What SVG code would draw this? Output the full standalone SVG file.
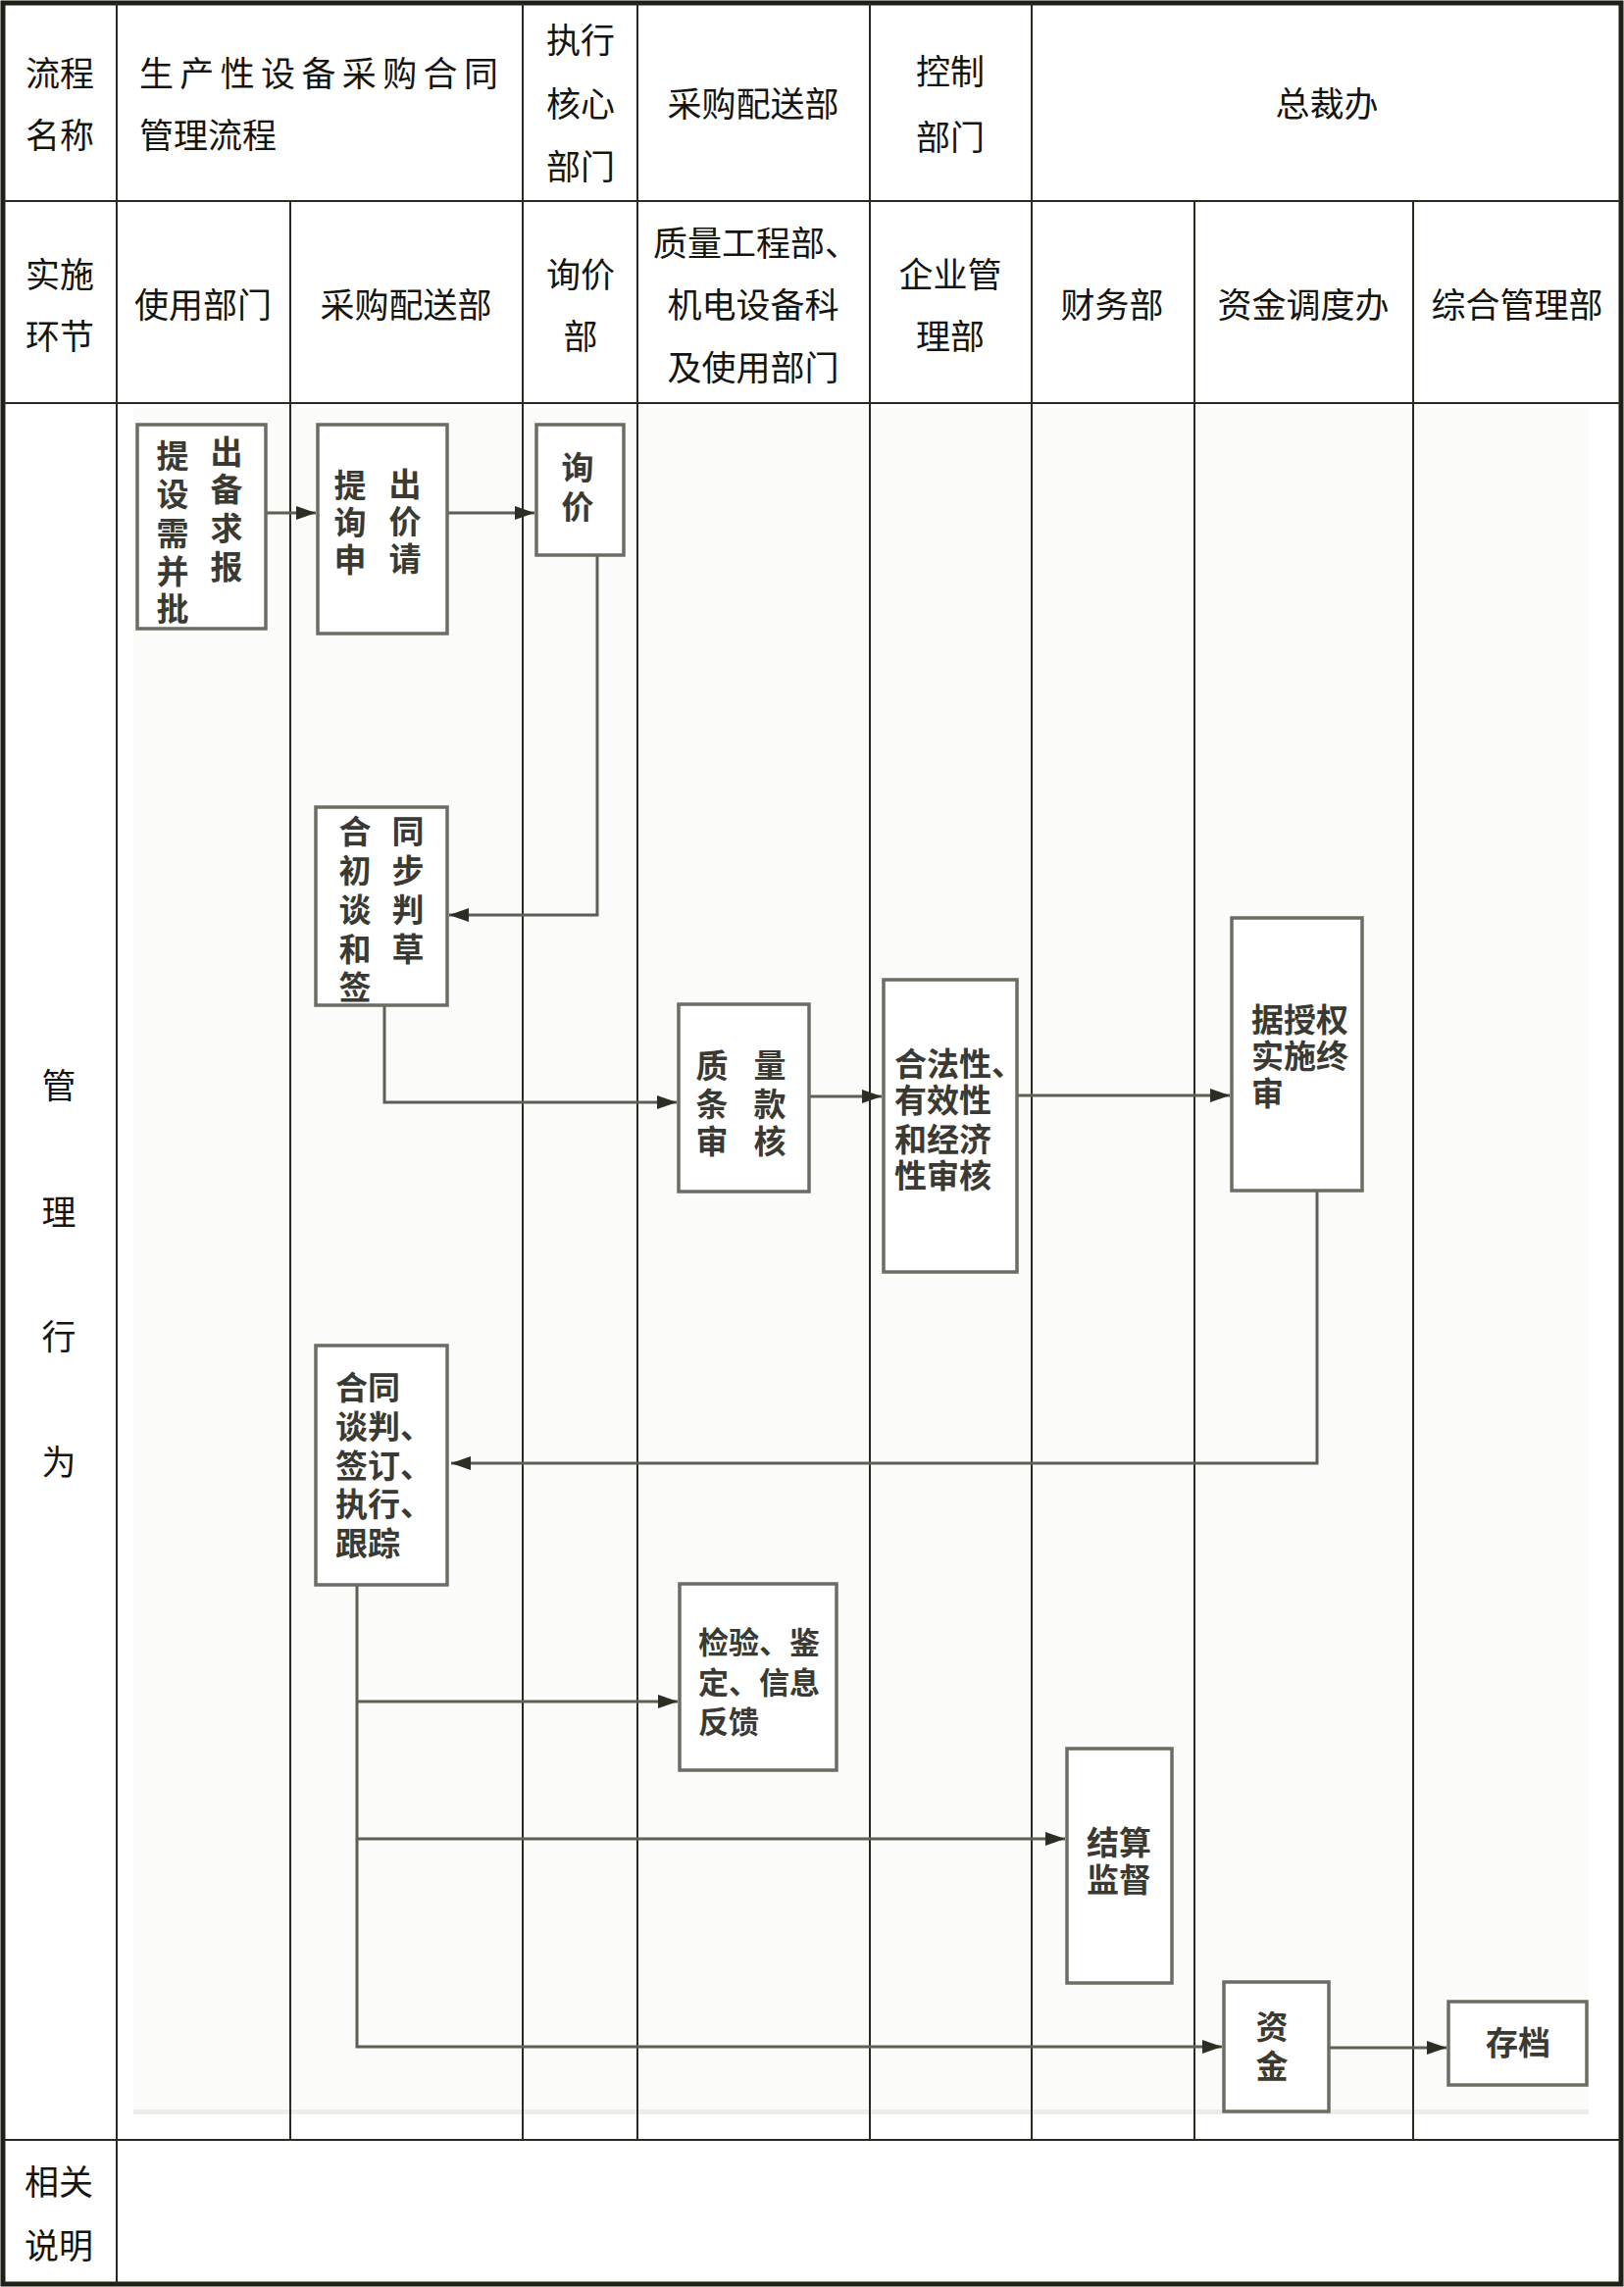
<svg xmlns="http://www.w3.org/2000/svg" width="1656" height="2332" viewBox="0 0 1656 2332">
<style>
.hd{font-family:"Noto Sans CJK SC","Noto Sans",sans-serif;font-size:35px;fill:#151510;text-anchor:middle;dominant-baseline:central}
.hs{text-anchor:start}
.bt{font-family:"Noto Sans CJK SC","Noto Sans",sans-serif;font-size:33px;font-weight:bold;fill:#3a3a32;dominant-baseline:central}
.c{text-anchor:middle}
.grid{stroke:#2a2a20;stroke-width:2;fill:none}
.box{fill:#ffffff;stroke:#6c6c62;stroke-width:3.5}
.ln{fill:none;stroke:#5e5e54;stroke-width:3}
</style>
<defs>
<marker id="ah" viewBox="0 0 20 14" refX="20" refY="7" markerWidth="20" markerHeight="14" markerUnits="userSpaceOnUse" orient="auto">
<path d="M0,0 L20,7 L0,14 z" fill="#2d2d25"/>
</marker>
</defs>
<rect x="0" y="0" width="1656" height="2332" fill="#ffffff"/>
<rect x="136" y="416" width="1484" height="1740" fill="#fbfbf9"/>
<rect x="136" y="2151" width="1484" height="5" fill="#ececea"/>

<g id="table">
<rect x="3" y="3" width="1650" height="2326" fill="none" stroke="#1f1f15" stroke-width="5"/>
<line class="grid" x1="3" y1="205" x2="1653" y2="205"/>
<line class="grid" x1="3" y1="411" x2="1653" y2="411"/>
<line class="grid" x1="3" y1="2182" x2="1653" y2="2182"/>
<line class="grid" x1="119" y1="3" x2="119" y2="2329"/>
<line class="grid" x1="296" y1="205" x2="296" y2="2182"/>
<line class="grid" x1="533" y1="3" x2="533" y2="2182"/>
<line class="grid" x1="650" y1="3" x2="650" y2="2182"/>
<line class="grid" x1="887" y1="3" x2="887" y2="2182"/>
<line class="grid" x1="1052" y1="3" x2="1052" y2="2182"/>
<line class="grid" x1="1218" y1="205" x2="1218" y2="2182"/>
<line class="grid" x1="1441" y1="205" x2="1441" y2="2182"/>
</g>

<g id="headers">
<text class="hd" x="61" y="72">流程</text>
<text class="hd" x="61" y="135">名称</text>
<text class="hd hs" x="142" y="72" textLength="366" lengthAdjust="spacing">生产性设备采购合同</text>
<text class="hd hs" x="142" y="135">管理流程</text>
<text class="hd" x="592" y="38">执行</text>
<text class="hd" x="592" y="103">核心</text>
<text class="hd" x="592" y="167">部门</text>
<text class="hd" x="768" y="103">采购配送部</text>
<text class="hd" x="969" y="70">控制</text>
<text class="hd" x="969" y="137">部门</text>
<text class="hd" x="1353" y="103">总裁办</text>
<text class="hd" x="61" y="277">实施</text>
<text class="hd" x="61" y="340">环节</text>
<text class="hd" x="207" y="308">使用部门</text>
<text class="hd" x="414" y="308">采购配送部</text>
<text class="hd" x="592" y="277">询价</text>
<text class="hd" x="592" y="340">部</text>
<text class="hd hs" x="666" y="245">质量工程部、</text>
<text class="hd" x="768" y="308">机电设备科</text>
<text class="hd" x="768" y="372">及使用部门</text>
<text class="hd" x="969" y="277">企业管</text>
<text class="hd" x="969" y="340">理部</text>
<text class="hd" x="1134" y="308">财务部</text>
<text class="hd" x="1329" y="308">资金调度办</text>
<text class="hd" x="1547" y="308">综合管理部</text>
<text class="hd" x="60" y="1104">管</text>
<text class="hd" x="60" y="1233">理</text>
<text class="hd" x="60" y="1360">行</text>
<text class="hd" x="60" y="1488">为</text>
<text class="hd" x="60" y="2222">相关</text>
<text class="hd" x="60" y="2287">说明</text>
</g>

<g id="connectors">
<path class="ln" d="M270,523 H322" marker-end="url(#ah)"/>
<path class="ln" d="M456,523 H545" marker-end="url(#ah)"/>
<path class="ln" d="M609,566 V933 H458" marker-end="url(#ah)"/>
<path class="ln" d="M392,1025 V1124 H690" marker-end="url(#ah)"/>
<path class="ln" d="M825,1118 H899" marker-end="url(#ah)"/>
<path class="ln" d="M1037,1117 H1254" marker-end="url(#ah)"/>
<path class="ln" d="M1343,1214 V1492 H460" marker-end="url(#ah)"/>
<path class="ln" d="M364,1616 V2087 H1246" marker-end="url(#ah)"/>
<path class="ln" d="M364,1735 H691" marker-end="url(#ah)"/>
<path class="ln" d="M364,1875 H1086" marker-end="url(#ah)"/>
<path class="ln" d="M1355,2088 H1475" marker-end="url(#ah)"/>
</g>

<g id="n1">
<rect class="box" x="140" y="433" width="131" height="208"/>
<text class="bt c"><tspan x="176" y="463">提</tspan><tspan x="231" y="459">出</tspan><tspan x="176" y="502">设</tspan><tspan x="231" y="497">备</tspan><tspan x="176" y="542">需</tspan><tspan x="231" y="537">求</tspan><tspan x="176" y="581">并</tspan><tspan x="231" y="576">报</tspan><tspan x="176" y="619">批</tspan></text>
</g>
<g id="n2">
<rect class="box" x="324" y="433" width="132" height="213"/>
<text class="bt c"><tspan x="357" y="493">提</tspan><tspan x="413" y="492">出</tspan><tspan x="357" y="531">询</tspan><tspan x="413" y="530">价</tspan><tspan x="357" y="569">申</tspan><tspan x="413" y="568">请</tspan></text>
</g>
<g id="n3">
<rect class="box" x="547" y="433" width="89" height="133"/>
<text class="bt c"><tspan x="589" y="475">询</tspan><tspan x="589" y="515">价</tspan></text>
</g>
<g id="n4">
<rect class="box" x="322" y="823" width="134" height="202"/>
<text class="bt c"><tspan x="362" y="846">合</tspan><tspan x="416" y="846">同</tspan><tspan x="362" y="886">初</tspan><tspan x="416" y="886">步</tspan><tspan x="362" y="926">谈</tspan><tspan x="416" y="926">判</tspan><tspan x="362" y="966">和</tspan><tspan x="416" y="966">草</tspan><tspan x="362" y="1005">签</tspan></text>
</g>
<g id="n5">
<rect class="box" x="692" y="1024" width="133" height="191"/>
<text class="bt c"><tspan x="726" y="1085">质</tspan><tspan x="785" y="1084">量</tspan><tspan x="726" y="1124">条</tspan><tspan x="785" y="1124">款</tspan><tspan x="726" y="1162">审</tspan><tspan x="785" y="1162">核</tspan></text>
</g>
<g id="n6">
<rect class="box" x="901" y="999" width="136" height="298"/>
<text class="bt"><tspan x="912" y="1083">合法性、</tspan><tspan x="912" y="1120">有效性</tspan><tspan x="912" y="1160">和经济</tspan><tspan x="912" y="1197">性审核</tspan></text>
</g>
<g id="n7">
<rect class="box" x="1256" y="936" width="133" height="278"/>
<text class="bt"><tspan x="1276" y="1038">据授权</tspan><tspan x="1276" y="1075">实施终</tspan><tspan x="1276" y="1113">审</tspan></text>
</g>
<g id="n8">
<rect class="box" x="322" y="1372" width="134" height="244"/>
<text class="bt"><tspan x="342" y="1413">合同</tspan><tspan x="342" y="1453">谈判、</tspan><tspan x="342" y="1493">签订、</tspan><tspan x="342" y="1532">执行、</tspan><tspan x="342" y="1572">跟踪</tspan></text>
</g>
<g id="n9">
<rect class="box" x="693" y="1615" width="160" height="190"/>
<text class="bt" style="font-size:31px"><tspan x="712" y="1672">检验、鉴</tspan><tspan x="712" y="1713">定、信息</tspan><tspan x="712" y="1753">反馈</tspan></text>
</g>
<g id="n10">
<rect class="box" x="1088" y="1783" width="107" height="239"/>
<text class="bt"><tspan x="1108" y="1877">结算</tspan><tspan x="1108" y="1915">监督</tspan></text>
</g>
<g id="n11">
<rect class="box" x="1248" y="2021" width="107" height="132"/>
<text class="bt c"><tspan x="1297" y="2065">资</tspan><tspan x="1297" y="2105">金</tspan></text>
</g>
<g id="n12">
<rect class="box" x="1477" y="2041" width="141" height="85"/>
<text class="bt c" x="1548" y="2081">存档</text>
</g>
</svg>
